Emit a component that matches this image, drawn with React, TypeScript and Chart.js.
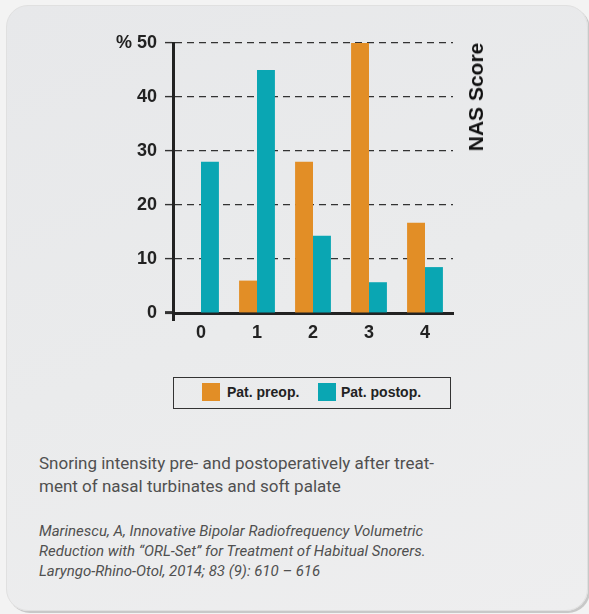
import React, { useEffect, useRef } from "react";
import { Chart, registerables } from "chart.js";

Chart.register(...registerables);

const categories = ["0", "1", "2", "3", "4"];
const preopValues = [0, 6, 28, 50, 16.7];
const postopValues = [28, 45, 14.3, 5.7, 8.5];
const yTicks = [0, 10, 20, 30, 40, 50];
const seriesNames = ["Pat. preop.", "Pat. postop."];
const seriesColors = ["#e28e26", "#0aa6b3"];
const axisTitle = "NAS Score";
const captionLines = [
  "Snoring intensity pre- and postoperatively after treat-",
  "ment of nasal turbinates and soft palate",
];
const citationLines = [
  "Marinescu, A, Innovative Bipolar Radiofrequency Volumetric",
  "Reduction with \u201cORL-Set\u201d for Treatment of Habitual Snorers.",
  "Laryngo-Rhino-Otol, 2014; 83 (9): 610 \u2013 616",
];

const FONT = "'Liberation Sans', Arial, sans-serif";

export default function App() {
  const canvasRef = useRef<HTMLCanvasElement | null>(null);

  useEffect(() => {
    document.body.style.margin = "0";
    const canvas = canvasRef.current;
    if (!canvas) return;
    const chart = new Chart(canvas, {
      type: "bar",
      data: {
        labels: categories,
        datasets: [
          {
            label: seriesNames[0],
            data: preopValues,
            backgroundColor: seriesColors[0],
            borderWidth: 0,
          },
          {
            label: seriesNames[1],
            data: postopValues,
            backgroundColor: seriesColors[1],
            borderWidth: 0,
          },
        ],
      },
      options: {
        animation: false,
        responsive: false,
        maintainAspectRatio: false,
        layout: { padding: { top: 23, right: 17, left: 0, bottom: 0 } },
        datasets: {
          bar: { categoryPercentage: 0.64, barPercentage: 1.0 },
        },
        plugins: {
          legend: { display: false },
          tooltip: { enabled: false },
          title: { display: false },
        },
        scales: {
          x: {
            offset: true,
            z: 2,
            border: { display: true, color: "#222", width: 3 },
            grid: {
              display: true,
              offset: true,
              drawOnChartArea: false,
              drawTicks: true,
              tickLength: 8,
              color: "transparent",
              tickColor: (ctx: any) => (ctx.index === 0 ? "#222" : "transparent"),
              tickWidth: 3,
            },
            ticks: {
              color: "#222",
              padding: 1,
              font: { family: FONT, size: 18, weight: "bold" },
            },
            afterFit: (scale: any) => {
              scale.height = 47;
            },
          },
          y: {
            min: 0,
            max: 50,
            z: 1,
            border: { display: true, color: "#222", width: 3, dash: [7, 5] },
            grid: {
              color: "#333",
              lineWidth: 1.2,
              drawTicks: true,
              tickLength: 8,
              tickBorderDash: [],
              tickColor: "#333",
              tickWidth: (ctx: any) => (ctx.index === 0 ? 3 : 1.4),
            },
            afterBuildTicks: (scale: any) => {
              scale.ticks = yTicks.map((v) => ({ value: v }));
            },
            ticks: {
              color: "#222",
              padding: 8,
              font: { family: FONT, size: 18, weight: "bold" },
              callback: (value: any) =>
                value === yTicks[yTicks.length - 1] ? "% " + value : String(value),
            },
            afterFit: (scale: any) => {
              scale.width = 103;
            },
          },
        },
      },
    });
    return () => chart.destroy();
  }, []);

  const abs = (s: React.CSSProperties): React.CSSProperties => ({ position: "absolute", ...s });

  return (
    <div
      style={{
        position: "fixed",
        left: 0,
        top: 0,
        width: 589,
        height: 614,
        background: "#f3f3f3",
        overflow: "hidden",
      }}
    >
      <div
        style={abs({
          left: 6,
          top: 5,
          width: 580,
          height: 604,
          borderRadius: 22,
          background: "linear-gradient(160deg, #e7e8ea 0%, #eaebec 50%, #eeeeef 100%)",
          border: "1px solid #e0e0e0",
          boxShadow: "2px 2px 0 #c8c8c8",
        })}
      />
      <canvas
        ref={canvasRef}
        width={400}
        height={340}
        style={abs({ left: 70, top: 20, width: 400, height: 340 })}
      />
      <div
        style={abs({
          left: 476,
          top: 97,
          transform: "translate(-50%, -50%) rotate(-90deg)",
          fontFamily: FONT,
          fontWeight: "bold",
          fontSize: 21,
          color: "#111",
          whiteSpace: "nowrap",
        })}
      >
        {axisTitle}
      </div>
      <div
        style={abs({
          left: 173,
          top: 377,
          width: 278,
          height: 32,
          boxSizing: "border-box",
          border: "1px solid #333",
        })}
      >
        {seriesNames.map((name, i) => (
          <React.Fragment key={name}>
            <div
              style={abs({
                left: i === 0 ? 28 : 144,
                top: 5,
                width: 18,
                height: 18,
                background: seriesColors[i],
              })}
            />
            <div
              style={abs({
                left: i === 0 ? 53 : 167,
                top: 4,
                lineHeight: "20px",
                fontFamily: FONT,
                fontWeight: "bold",
                fontSize: 14,
                color: "#222",
                whiteSpace: "nowrap",
              })}
            >
              {name}
            </div>
          </React.Fragment>
        ))}
      </div>
      <div
        style={abs({
          left: 39,
          top: 452,
          fontFamily: "Roboto, 'Noto Sans', sans-serif",
          fontSize: 17,
          lineHeight: "23px",
          color: "#505050",
          whiteSpace: "nowrap",
        })}
      >
        {captionLines.map((l) => (
          <div key={l}>{l}</div>
        ))}
      </div>
      <div
        style={abs({
          left: 39,
          top: 521,
          fontFamily: "Roboto, 'Noto Sans', sans-serif",
          fontStyle: "italic",
          fontSize: 15,
          lineHeight: "20px",
          color: "#505050",
          whiteSpace: "nowrap",
        })}
      >
        {citationLines.map((l) => (
          <div key={l}>{l}</div>
        ))}
      </div>
    </div>
  );
}
